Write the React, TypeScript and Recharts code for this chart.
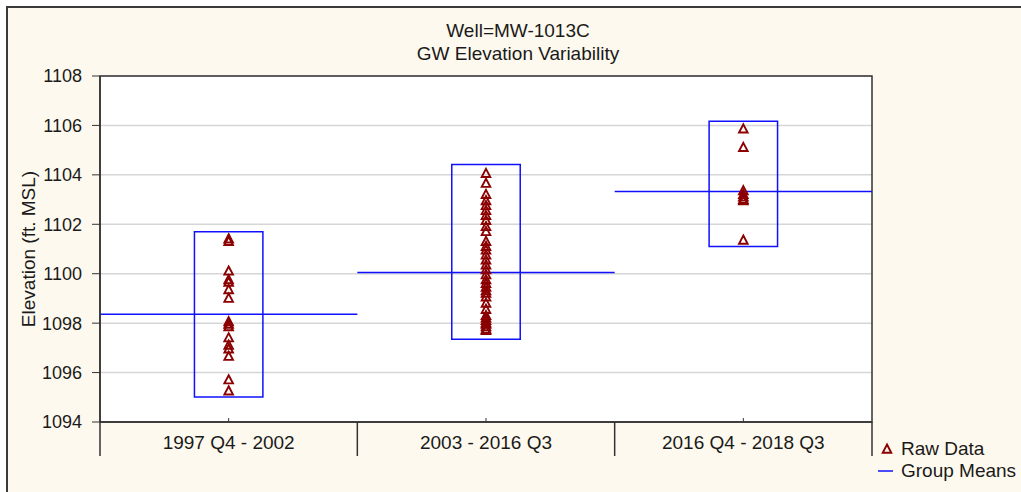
import React from "react";
import {
  ComposedChart,
  XAxis,
  YAxis,
  CartesianGrid,
  Scatter,
  ReferenceLine,
  ReferenceArea,
} from "recharts";

const groupLabels = ["1997 Q4 - 2002", "2003 - 2016 Q3", "2016 Q4 - 2018 Q3"];
const group1Values = [1101.4, 1101.3, 1100.1, 1099.75, 1099.65, 1099.35, 1099.0, 1098.05, 1097.95, 1097.85, 1097.4, 1097.1, 1096.95, 1096.65, 1095.7, 1095.25];
const group2Values = [1104.05, 1103.65, 1103.2, 1102.95, 1102.75, 1102.55, 1102.35, 1102.15, 1101.9, 1101.7, 1101.3, 1101.1, 1100.95, 1100.75, 1100.55, 1100.35, 1100.15, 1099.95, 1099.75, 1099.6, 1099.45, 1099.3, 1099.2, 1099.05, 1098.8, 1098.55, 1098.3, 1098.2, 1098.1, 1098.0, 1097.95, 1097.85, 1097.75, 1097.7];
const group3Values = [1105.85, 1105.1, 1103.35, 1103.2, 1103.1, 1103.0, 1102.95, 1101.35];
const groupMeans = [1098.36, 1100.05, 1103.33];
const boxLow = [1095.01, 1097.35, 1101.1];
const boxHigh = [1101.7, 1104.42, 1106.17];
const yTicks = [1094, 1096, 1098, 1100, 1102, 1104, 1106, 1108];
const xTicks = [0, 0.5, 1, 1.5, 2, 2.5, 3];

const allGroups = [group1Values, group2Values, group3Values];
const rawData = allGroups.flatMap((vals, i) => vals.map((v) => ({ x: i + 0.5, y: v })));

const FONT = "'Liberation Sans', Arial, sans-serif";
const TEXT = "#1a1a1a";
const DARK = "#333333";
const RED = "#8B0000";
const BLUE = "#1010ff";
const BOX_HALF = 0.133;

const Tri = (props: any) => {
  const { cx, cy } = props;
  if (cx == null || cy == null) return null;
  return (
    <path
      d={`M${cx},${cy - 4.8} L${cx + 4.3},${cy + 3.4} L${cx - 4.3},${cy + 3.4} Z`}
      fill="none"
      stroke={RED}
      strokeWidth={1.9}
      strokeLinejoin="miter"
    />
  );
};

const BandTick = (props: any) => {
  const { x, y, payload } = props;
  const v = payload.value as number;
  if (Number.isInteger(v)) {
    return <line x1={x} x2={x} y1={y} y2={y + 34} stroke={DARK} strokeWidth={1.5} />;
  }
  const idx = Math.floor(v);
  return (
    <g>
      <line x1={x} x2={x} y1={y - 4} y2={y} stroke={DARK} strokeWidth={1} />
      <text x={x} y={y + 27} textAnchor="middle" fontFamily={FONT} fontSize={19} fill={TEXT}>
        {groupLabels[idx]}
      </text>
    </g>
  );
};

const YLabel = (props: any) => {
  const vb = props.viewBox || {};
  const cy = (vb.y ?? 0) + (vb.height ?? 0) / 2;
  const x = 35;
  return (
    <text
      x={x}
      y={cy}
      transform={`rotate(-90, ${x}, ${cy})`}
      textAnchor="middle"
      fontFamily={FONT}
      fontSize={19}
      fill={TEXT}
    >
      Elevation (ft. MSL)
    </text>
  );
};

const XLabel = (props: any) => {
  const vb = props.viewBox || {};
  const cx = (vb.x ?? 0) + (vb.width ?? 0) / 2;
  return (
    <text x={cx} y={(vb.y ?? 0) + 25} textAnchor="middle" fontFamily={FONT} fontSize={19} fill={TEXT}>
      Date Group
    </text>
  );
};

export default function App() {
  return (
    <div
      style={{
        position: "absolute",
        left: 0,
        top: 0,
        width: 1021,
        height: 492,
        overflow: "hidden",
        background: "#ffffff",
      }}
    >
      <div
        style={{
          position: "absolute",
          left: 6,
          top: 6,
          width: 1030,
          height: 500,
          borderTop: "2px solid #3a3a3a",
          borderLeft: "2px solid #3a3a3a",
          background: "#FEF9EE",
        }}
      />
      <div style={{ position: "absolute", left: 0, top: 0 }}>
        <ComposedChart
          width={1021}
          height={492}
          margin={{ top: 76, right: 149, bottom: 36, left: 0 }}
        >
          <CartesianGrid
            horizontal={true}
            vertical={false}
            stroke="#d6d6d6"
            strokeWidth={1.5}
            fill="#ffffff"
            fillOpacity={1}
          />
          <XAxis
            xAxisId={0}
            type="number"
            dataKey="x"
            domain={[0, 3]}
            ticks={xTicks}
            interval={0}
            height={34}
            tickSize={0}
            tickMargin={0}
            tickLine={false}
            axisLine={{ stroke: DARK, strokeWidth: 1.5 }}
            tick={<BandTick />}
            allowDataOverflow
          />
          <XAxis
            xAxisId="band"
            type="number"
            domain={[0, 3]}
            height={0}
            tick={false}
            tickLine={false}
            axisLine={{ stroke: DARK, strokeWidth: 1.5 }}
            label={<XLabel />}
          />
          <YAxis
            type="number"
            domain={[1094, 1108]}
            ticks={yTicks}
            interval={0}
            width={100}
            tickSize={8}
            tickMargin={10}
            tickLine={{ stroke: DARK, strokeWidth: 1 }}
            axisLine={{ stroke: DARK, strokeWidth: 1.5 }}
            tick={{ fontFamily: "'Liberation Sans Narrow', 'Arial Narrow', 'Liberation Sans', Arial", fontSize: 18, fill: TEXT }}
            label={<YLabel />}
            allowDataOverflow
          />
          {groupMeans.map((m, i) => (
            <ReferenceLine
              key={`mean-${i}`}
              segment={[
                { x: i, y: m },
                { x: i + 1, y: m },
              ]}
              stroke={BLUE}
              strokeWidth={1.5}
            />
          ))}
          {boxLow.map((lo, i) => (
            <ReferenceArea
              key={`box-${i}`}
              x1={i + 0.5 - BOX_HALF}
              x2={i + 0.5 + BOX_HALF}
              y1={lo}
              y2={boxHigh[i]}
              fill="none"
              fillOpacity={0}
              stroke={BLUE}
              strokeWidth={1.5}
            />
          ))}
          <Scatter
            name="Raw Data"
            data={rawData}
            dataKey="y"
            shape={<Tri />}
            isAnimationActive={false}
          />
          <ReferenceArea
            x1={0}
            x2={3}
            y1={1094}
            y2={1108}
            fill="none"
            fillOpacity={0}
            stroke={DARK}
            strokeWidth={1.5}
          />
        </ComposedChart>
      </div>
      <svg
        width={1021}
        height={492}
        style={{ position: "absolute", left: 0, top: 0, pointerEvents: "none" }}
      >
        <text x={518} y={37} textAnchor="middle" fontFamily={FONT} fontSize={19} fill={TEXT}>
          Well=MW-1013C
        </text>
        <text x={518} y={60} textAnchor="middle" fontFamily={FONT} fontSize={19} fill={TEXT}>
          GW Elevation Variability
        </text>
        <path d="M887,444.5 L891.3,452.7 L882.7,452.7 Z" fill="none" stroke={RED} strokeWidth={1.9} />
        <text x={901} y={455} fontFamily={FONT} fontSize={19} fill={TEXT}>
          Raw Data
        </text>
        <line x1={878} x2={893} y1={471} y2={471} stroke={BLUE} strokeWidth={1.5} />
        <text x={901} y={477} fontFamily={FONT} fontSize={19} fill={TEXT}>
          Group Means
        </text>
      </svg>
    </div>
  );
}
